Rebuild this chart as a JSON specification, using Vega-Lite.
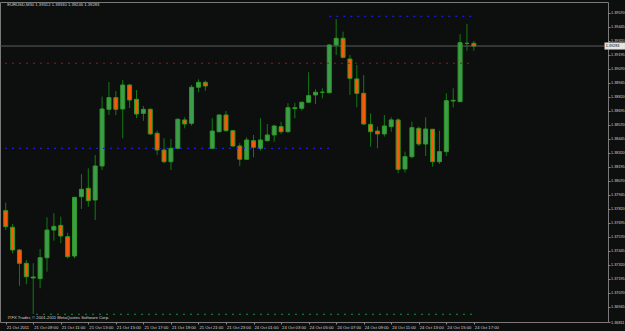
{
  "$schema": "https://vega.github.io/schema/vega-lite/v6.json",
  "width": 608,
  "height": 320,
  "autosize": "none",
  "padding": {"left": 0, "top": 2, "right": 17, "bottom": 9},
  "background": "#0d0f0f",
  "config": {
    "view": {"stroke": "#7a7a7a", "strokeWidth": 1},
    "axis": {"labelFont": "Liberation Sans", "labelFontSize": 4.2, "labelColor": "#d2d2d2", "tickColor": "#8a8a8a", "domain": false, "grid": false}
  },
  "resolve": {"axis": {"x": "independent", "y": "independent"}},
  "datasets": {
    "bars": [
      {"i":0,"t":"2011-10-21 07:00","o":1.37805,"h":1.37876,"l":1.37632,"c":1.37662},
      {"i":1,"t":"2011-10-21 07:30","o":1.37657,"h":1.37686,"l":1.37424,"c":1.37454},
      {"i":2,"t":"2011-10-21 08:00","o":1.37454,"h":1.37463,"l":1.37135,"c":1.37335},
      {"i":3,"t":"2011-10-21 08:30","o":1.37335,"h":1.37365,"l":1.37148,"c":1.37215},
      {"i":4,"t":"2011-10-21 09:00","o":1.37213,"h":1.37335,"l":1.36882,"c":1.37204},
      {"i":5,"t":"2011-10-21 09:30","o":1.37198,"h":1.37463,"l":1.37112,"c":1.37385},
      {"i":6,"t":"2011-10-21 10:00","o":1.37385,"h":1.37746,"l":1.37260,"c":1.37632},
      {"i":7,"t":"2011-10-21 10:30","o":1.37632,"h":1.37782,"l":1.37537,"c":1.37665},
      {"i":8,"t":"2011-10-21 11:00","o":1.37674,"h":1.37751,"l":1.37514,"c":1.37579},
      {"i":9,"t":"2011-10-21 11:30","o":1.37573,"h":1.37608,"l":1.37380,"c":1.37394},
      {"i":10,"t":"2011-10-21 12:00","o":1.37400,"h":1.37930,"l":1.37380,"c":1.37924},
      {"i":11,"t":"2011-10-21 12:30","o":1.37930,"h":1.38132,"l":1.37820,"c":1.37996},
      {"i":12,"t":"2011-10-21 13:00","o":1.38005,"h":1.38183,"l":1.37840,"c":1.37894},
      {"i":13,"t":"2011-10-21 13:30","o":1.37900,"h":1.38302,"l":1.37722,"c":1.38204},
      {"i":14,"t":"2011-10-21 14:00","o":1.38204,"h":1.38823,"l":1.38168,"c":1.38713},
      {"i":15,"t":"2011-10-21 14:30","o":1.38710,"h":1.38954,"l":1.38659,"c":1.38814},
      {"i":16,"t":"2011-10-21 15:00","o":1.38814,"h":1.38874,"l":1.38659,"c":1.38710},
      {"i":17,"t":"2011-10-21 15:30","o":1.38713,"h":1.38972,"l":1.38451,"c":1.38927},
      {"i":18,"t":"2011-10-21 16:00","o":1.38927,"h":1.38936,"l":1.38722,"c":1.38793},
      {"i":19,"t":"2011-10-21 16:30","o":1.38799,"h":1.38882,"l":1.38630,"c":1.38668},
      {"i":20,"t":"2011-10-21 17:00","o":1.38674,"h":1.38740,"l":1.38608,"c":1.38710},
      {"i":21,"t":"2011-10-21 17:30","o":1.38710,"h":1.38719,"l":1.38481,"c":1.38490},
      {"i":22,"t":"2011-10-21 18:00","o":1.38496,"h":1.38519,"l":1.38302,"c":1.38347},
      {"i":23,"t":"2011-10-21 18:30","o":1.38347,"h":1.38451,"l":1.38228,"c":1.38242},
      {"i":24,"t":"2011-10-21 19:00","o":1.38242,"h":1.38445,"l":1.38168,"c":1.38362},
      {"i":25,"t":"2011-10-21 19:30","o":1.38362,"h":1.38630,"l":1.38353,"c":1.38621},
      {"i":26,"t":"2011-10-21 20:00","o":1.38615,"h":1.38639,"l":1.38540,"c":1.38579},
      {"i":27,"t":"2011-10-21 20:30","o":1.38585,"h":1.38927,"l":1.38564,"c":1.38907},
      {"i":28,"t":"2011-10-21 21:00","o":1.38907,"h":1.38978,"l":1.38862,"c":1.38951},
      {"i":29,"t":"2011-10-21 21:30","o":1.38951,"h":1.38966,"l":1.38876,"c":1.38918},
      {"i":30,"t":"2011-10-21 22:00","o":1.38362,"h":1.38630,"l":1.38356,"c":1.38516},
      {"i":31,"t":"2011-10-21 22:30","o":1.38510,"h":1.38668,"l":1.38503,"c":1.38659},
      {"i":32,"t":"2011-10-21 23:00","o":1.38659,"h":1.38695,"l":1.38510,"c":1.38519},
      {"i":33,"t":"2011-10-21 23:30","o":1.38519,"h":1.38525,"l":1.38374,"c":1.38382},
      {"i":34,"t":"2011-10-24 00:00","o":1.38382,"h":1.38407,"l":1.38204,"c":1.38264},
      {"i":35,"t":"2011-10-24 00:30","o":1.38264,"h":1.38460,"l":1.38257,"c":1.38436},
      {"i":36,"t":"2011-10-24 01:00","o":1.38430,"h":1.38481,"l":1.38282,"c":1.38371},
      {"i":37,"t":"2011-10-24 01:30","o":1.38362,"h":1.38630,"l":1.38340,"c":1.38436},
      {"i":38,"t":"2011-10-24 02:00","o":1.38430,"h":1.38579,"l":1.38421,"c":1.38481},
      {"i":39,"t":"2011-10-24 02:30","o":1.38481,"h":1.38570,"l":1.38421,"c":1.38561},
      {"i":40,"t":"2011-10-24 03:00","o":1.38555,"h":1.38599,"l":1.38490,"c":1.38510},
      {"i":41,"t":"2011-10-24 03:30","o":1.38510,"h":1.38764,"l":1.38501,"c":1.38724},
      {"i":42,"t":"2011-10-24 04:00","o":1.38716,"h":1.38769,"l":1.38630,"c":1.38724},
      {"i":43,"t":"2011-10-24 04:30","o":1.38719,"h":1.38778,"l":1.38698,"c":1.38773},
      {"i":44,"t":"2011-10-24 05:00","o":1.38773,"h":1.39041,"l":1.38769,"c":1.38832},
      {"i":45,"t":"2011-10-24 05:30","o":1.38838,"h":1.38889,"l":1.38757,"c":1.38862},
      {"i":46,"t":"2011-10-24 06:00","o":1.38862,"h":1.38898,"l":1.38808,"c":1.38862},
      {"i":47,"t":"2011-10-24 06:30","o":1.38858,"h":1.39293,"l":1.38853,"c":1.39284},
      {"i":48,"t":"2011-10-24 07:00","o":1.39284,"h":1.39516,"l":1.39195,"c":1.39344},
      {"i":49,"t":"2011-10-24 07:30","o":1.39344,"h":1.39403,"l":1.39166,"c":1.39174},
      {"i":50,"t":"2011-10-24 08:00","o":1.39159,"h":1.39195,"l":1.38838,"c":1.38987},
      {"i":51,"t":"2011-10-24 08:30","o":1.38981,"h":1.39106,"l":1.38728,"c":1.38853},
      {"i":52,"t":"2011-10-24 09:00","o":1.38853,"h":1.39016,"l":1.38570,"c":1.38579},
      {"i":53,"t":"2011-10-24 09:30","o":1.38576,"h":1.38674,"l":1.38376,"c":1.38510},
      {"i":54,"t":"2011-10-24 10:00","o":1.38516,"h":1.38555,"l":1.38362,"c":1.38490},
      {"i":55,"t":"2011-10-24 10:30","o":1.38490,"h":1.38659,"l":1.38466,"c":1.38561},
      {"i":56,"t":"2011-10-24 11:00","o":1.38555,"h":1.38639,"l":1.38510,"c":1.38615},
      {"i":57,"t":"2011-10-24 11:30","o":1.38615,"h":1.38630,"l":1.38139,"c":1.38174},
      {"i":58,"t":"2011-10-24 12:00","o":1.38177,"h":1.38332,"l":1.38144,"c":1.38287},
      {"i":59,"t":"2011-10-24 12:30","o":1.38287,"h":1.38599,"l":1.38273,"c":1.38546},
      {"i":60,"t":"2011-10-24 13:00","o":1.38540,"h":1.38555,"l":1.38382,"c":1.38400},
      {"i":61,"t":"2011-10-24 13:30","o":1.38400,"h":1.38639,"l":1.38293,"c":1.38534},
      {"i":62,"t":"2011-10-24 14:00","o":1.38532,"h":1.38534,"l":1.38198,"c":1.38242},
      {"i":63,"t":"2011-10-24 14:30","o":1.38242,"h":1.38519,"l":1.38222,"c":1.38332},
      {"i":64,"t":"2011-10-24 15:00","o":1.38332,"h":1.38853,"l":1.38293,"c":1.38787},
      {"i":65,"t":"2011-10-24 15:30","o":1.38790,"h":1.38898,"l":1.38726,"c":1.38784},
      {"i":66,"t":"2011-10-24 16:00","o":1.38778,"h":1.39382,"l":1.38775,"c":1.39305},
      {"i":67,"t":"2011-10-24 16:30","o":1.39299,"h":1.39472,"l":1.39233,"c":1.39299},
      {"i":68,"t":"2011-10-24 17:00","o":1.39299,"h":1.39320,"l":1.39233,"c":1.39275}
    ]
  },
  "data": {"name": "bars"},
  "layer": [
    {
      "mark": {"type": "rule", "color": "#137a13", "strokeWidth": 1},
      "encoding": {
        "x": {"field": "i", "type": "quantitative",
          "scale": {"domain": [-0.1, 86.757], "nice": false, "zero": false},
          "axis": {"orient": "bottom", "title": null, "values": [0,4,8,12,16,20,24,28,32,36,40,44,48,52,56,60,64,68],
            "labelExpr": "['21 Oct 2011','21 Oct 09:00','21 Oct 11:00','21 Oct 13:00','21 Oct 15:00','21 Oct 17:00','21 Oct 19:00','21 Oct 21:00','21 Oct 23:00','24 Oct 01:00','24 Oct 03:00','24 Oct 05:00','24 Oct 07:00','24 Oct 09:00','24 Oct 11:00','24 Oct 13:00','24 Oct 15:00','24 Oct 17:00'][round(datum.value/4)]",
            "labelAlign": "left", "labelBaseline": "top", "labelPadding": 1, "labelOffset": 0.5, "tickSize": 2, "labelOverlap": false, "labelFlush": false, "labelBound": false}},
        "y": {"field": "l", "type": "quantitative",
          "scale": {"domain": [1.36811, 1.39668], "nice": false, "zero": false},
          "axis": {"orient": "right", "title": null, "values": [1.39570,1.39445,1.39320,1.39195,1.39070,1.38945,1.38820,1.38695,1.38570,1.38445,1.38320,1.38195,1.38070,1.37945,1.37820,1.37695,1.37570,1.37445,1.37320,1.37195,1.37070,1.36945,1.36811],
            "format": ".5f", "labelFontSize": 3.8, "labelAlign": "left", "labelBaseline": "middle", "labelPadding": 0.5, "tickSize": 2, "labelOverlap": false, "labelFlush": false, "labelBound": false}},
        "y2": {"field": "h"}
      }
    },
    {
      "data": {"values": [{}]},
      "mark": {"type": "rule", "color": "#5c5c5c", "strokeWidth": 1},
      "encoding": {
        "y": {"datum": 1.39275, "type": "quantitative", "axis": null}
      }
    },
    {
      "mark": {"type": "bar", "width": 4, "strokeWidth": 1, "stroke": "#2f9a22"},
      "encoding": {
        "x": {"field": "i", "type": "quantitative", "axis": null},
        "y": {"field": "o", "type": "quantitative", "axis": null},
        "y2": {"field": "c"},
        "fill": {"condition": {"test": "datum.c >= datum.o", "value": "#3d9c4e"}, "value": "#ff560c"},
        "tooltip": [{"field": "t"}, {"field": "o"}, {"field": "h"}, {"field": "l"}, {"field": "c"}]
      }
    },
    {
      "data": {"values": [{}]},
      "mark": {"type": "rule", "color": "#1c1cd8", "strokeWidth": 1.2, "strokeDash": [2, 5]},
      "encoding": {"x": {"datum": -0.1, "type": "quantitative", "axis": null}, "x2": {"datum": 47}, "y": {"datum": 1.38362, "type": "quantitative", "axis": null}}
    },
    {
      "data": {"values": [{}]},
      "mark": {"type": "rule", "color": "#1c1cd8", "strokeWidth": 1.2, "strokeDash": [2, 5]},
      "encoding": {"x": {"datum": 47, "type": "quantitative", "axis": null}, "x2": {"datum": 68}, "y": {"datum": 1.39540, "type": "quantitative", "axis": null}}
    },
    {
      "data": {"values": [{}]},
      "mark": {"type": "rule", "color": "#b40a0a", "strokeWidth": 1.2, "strokeDash": [2, 5]},
      "encoding": {"x": {"datum": -0.1, "type": "quantitative", "axis": null}, "x2": {"datum": 68}, "y": {"datum": 1.39121, "type": "quantitative", "axis": null}}
    },
    {
      "data": {"values": [{}]},
      "mark": {"type": "rule", "color": "#1e8c3c", "strokeWidth": 1.2, "strokeDash": [2, 5]},
      "encoding": {"x": {"datum": 4.4, "type": "quantitative", "axis": null}, "x2": {"datum": 68}, "y": {"datum": 1.36880, "type": "quantitative", "axis": null}}
    },
    {
      "data": {"values": [{}]},
      "mark": {"type": "text", "align": "left", "baseline": "middle", "font": "Liberation Sans", "fontSize": 4.2, "color": "#d2d2d2", "dx": 1.5},
      "encoding": {"x": {"datum": 0, "type": "quantitative", "axis": null}, "y": {"datum": 1.39641, "type": "quantitative", "axis": null}, "text": {"value": "EURUSD,M30 1.39312 1.39330 1.39246 1.39283"}}
    },
    {
      "data": {"values": [{}]},
      "mark": {"type": "text", "align": "left", "baseline": "middle", "font": "Liberation Sans", "fontSize": 4.2, "color": "#d2d2d2", "dx": 2},
      "encoding": {"x": {"datum": 0, "type": "quantitative", "axis": null}, "y": {"datum": 1.36847, "type": "quantitative", "axis": null}, "text": {"value": "ITFX Trader, © 2001-2011 MetaQuotes Software Corp."}}
    },
    {
      "data": {"values": [{}]},
      "mark": {"type": "rect", "fill": "#e6e6e6", "stroke": "#a0a0a0", "strokeWidth": 0.5},
      "encoding": {"x": {"datum": 87.0, "type": "quantitative", "axis": null}, "x2": {"datum": 90}, "y": {"datum": 1.39305, "type": "quantitative", "axis": null}, "y2": {"datum": 1.39245}}
    },
    {
      "data": {"values": [{}]},
      "mark": {"type": "text", "align": "left", "baseline": "middle", "font": "Liberation Sans", "fontSize": 3.8, "color": "#000000"},
      "encoding": {"x": {"datum": 87.15, "type": "quantitative", "axis": null}, "y": {"datum": 1.39275, "type": "quantitative", "axis": null}, "text": {"value": "1.39283"}}
    }
  ]
}
